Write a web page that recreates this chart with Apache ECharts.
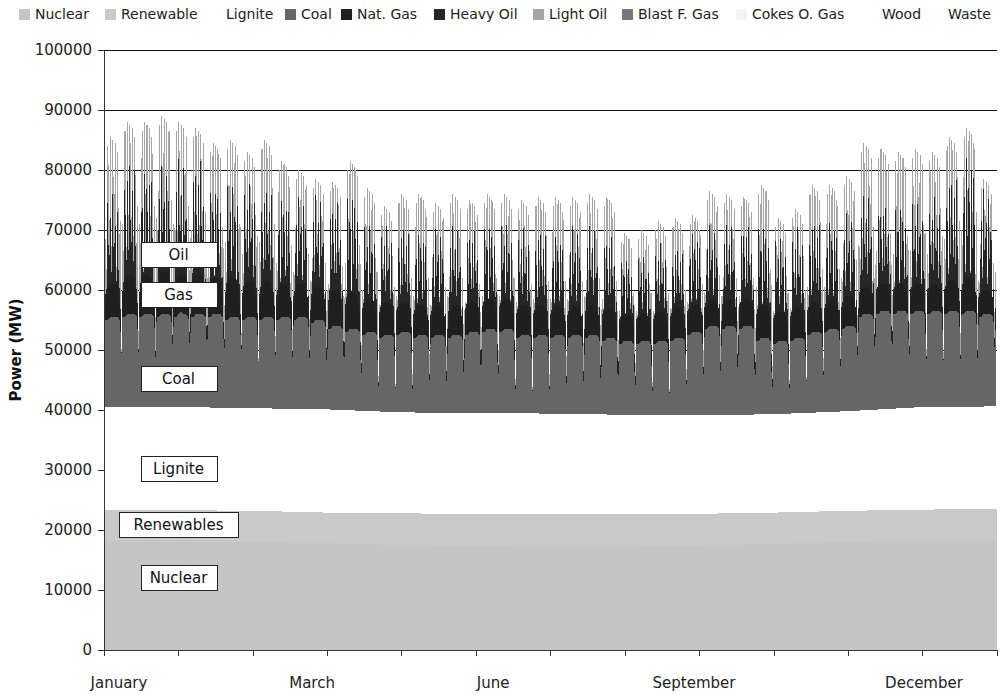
<!DOCTYPE html>
<html>
<head>
<meta charset="utf-8">
<script src="https://cdn.jsdelivr.net/npm/echarts@6/dist/echarts.min.js"></script>
<style>
html,body{margin:0;padding:0;background:#fff;}
#chart{width:1002px;height:695px;}
#chart path{shape-rendering:crispEdges;}
</style>
</head>
<body>
<div id="chart"></div>
<script>
// ---------------- DATA (MW; cumulative tops of each band) ----------------
// x-axis: hours of the year, 0 .. 8760; ticks every 730 h
const monthLabels = ['January', 'March', 'June', 'September', 'December'];
const monthLabelHours = [147, 2041, 3817, 5788, 8044];

// slow layers, sampled every 730 h (13 samples)
const nuclearTop   = [18200, 18200, 18000, 17800, 17500, 17300, 17200, 17200, 17400, 17700, 18000, 18300, 18400];
const renewableTop = [23300, 23300, 23200, 22900, 22800, 22600, 22600, 22600, 22700, 22900, 23200, 23400, 23500];
const ligniteTop   = [40500, 40500, 40300, 40100, 39600, 39500, 39400, 39200, 39100, 39300, 39800, 40500, 40600];

// weekly low (Sunday early morning): the whole stack drops to this value
const weeklyDip = [
48500, 49500, 49000, 47500, 49500, 49000, 49000, 48500, 49500, 48000, 48500, 47500,
46500, 45500, 46000, 44000, 43000, 43500, 42500, 43500, 42500, 43500,
44000, 43500, 42500, 43000, 42500, 43000, 42500, 42000,
42500, 42000, 42500, 42500, 43500, 44500, 44000, 44000,
42000, 41500, 43000, 44500, 45000, 46000,
47500, 48000, 48000, 47500, 48000, 48000, 47500, 47000, 48500
];

// daily values, one line per week (Sun .. Sat), 365 days
const coalTop = [
55000,55000,55500,55500,55500,55500,55000,
55500,55500,56000,56000,56000,56000,55500,
55500,55500,56000,56000,56000,56000,55500,
55500,55500,56000,56000,56000,56000,55500,
55500,55500,56000,56500,56000,56000,55500,
55500,55500,56000,56000,56000,56000,55500,
55500,55500,56000,56000,56000,56000,55500,
55000,55000,55500,55500,55500,55500,55000,
55000,55000,55500,55500,55500,55500,55000,
55000,55000,55500,55500,55500,55500,55000,
55000,55000,55500,55500,55500,55500,55000,
55000,55000,55500,55500,55500,55500,55000,
54500,54500,55000,55000,55000,55000,54500,
53500,53500,54000,54000,54000,54000,53500,
53000,53000,53500,53500,53500,53500,53000,
52500,52500,53000,53000,53000,53000,52500,
52000,52000,52500,52500,52500,52500,52000,
52500,52500,53000,53000,53000,53000,52500,
52000,52000,52500,52500,52500,52500,52000,
52000,52000,52500,52500,52500,52500,52000,
52000,52000,52500,52500,52500,52500,52000,
52500,52500,53000,53000,53000,53000,52500,
53000,53000,53500,53500,53500,53500,53000,
53000,53000,53500,53500,53500,53500,53000,
52000,52000,52500,52500,52500,52500,52000,
52000,52000,52500,52500,52500,52500,52000,
52000,52000,52500,52500,52500,52500,52000,
52000,52000,52500,52500,52500,52500,52000,
52000,52000,52500,52500,52500,52500,52000,
51500,51500,52000,52000,52000,52000,51500,
51000,51000,51500,51500,51500,51500,51000,
51000,51000,51500,51500,51500,51500,51000,
51000,51000,51500,51500,51500,51500,51000,
51500,51500,52000,52000,52000,52000,51500,
52500,52500,53000,53000,53000,53000,52500,
53500,53500,54000,54000,54000,54000,53500,
53500,53500,54000,54000,54000,54000,53500,
53500,53500,54000,54000,54000,54000,53500,
51500,51500,52000,52000,52000,52000,51500,
51000,51000,51500,51500,51500,51500,51000,
51500,51500,52000,52000,52000,52000,51500,
52500,52500,53000,53000,53000,53000,52500,
53000,53000,53500,53500,53500,53500,53000,
53500,53500,54000,54000,54000,54000,53500,
55500,55500,56000,56000,56000,56000,55500,
56000,56000,56500,56500,56500,56500,56000,
56000,56000,56500,56500,56500,56500,56000,
56000,56000,56500,56500,56500,56500,56000,
56000,56000,56500,56500,56500,56500,56000,
56000,56000,56500,56500,56500,56500,56000,
56000,56000,56500,56500,56500,56500,56000,
55500,55500,56000,56000,56000,56000,55500,
55500
];

// top of the solid black gas band (daily)
const gasTop = [
56000,60500,61000,61000,61000,60500,58000,
56500,62000,62500,62500,62500,62000,58500,
56500,62000,62500,62500,62500,62000,58500,
56500,62500,63000,63000,63000,62500,58500,
56500,62000,62500,62500,62500,62000,58500,
56500,62000,62500,62500,62500,62000,58500,
56500,61500,62000,62000,62000,61500,58500,
56000,61500,62000,62000,62000,61500,58000,
56000,61000,61500,61500,61500,61000,58000,
56000,61000,61500,61500,61500,61000,58000,
56000,60500,61000,61000,61000,60500,58000,
56000,60500,61000,61000,61000,60500,58000,
55500,60000,60500,60500,60500,60000,57500,
54500,59500,60000,60000,60000,59500,56500,
54000,59000,59500,59500,59500,59000,56000,
53500,58000,58500,58500,58500,58000,55500,
53000,57500,58000,58000,58000,57500,55000,
53500,57500,58000,58000,58000,57500,55500,
53000,57000,57500,57500,57500,57000,55000,
53000,57000,57500,57500,57500,57000,55000,
53000,57000,57500,57500,57500,57000,55000,
53500,57500,58000,58000,58000,57500,55500,
54000,58000,58500,58500,58500,58000,56000,
54000,58000,58500,58500,58500,58000,56000,
53000,57000,57500,57500,57500,57000,55000,
53000,57000,57500,57500,57500,57000,55000,
53000,57000,57500,57500,57500,57000,55000,
53000,57000,57500,57500,57500,57000,55000,
53000,57000,57500,57500,57500,57000,55000,
52500,56500,57000,57000,57000,56500,54500,
52000,55500,56000,56000,56000,55500,54000,
52000,55500,56000,56000,56000,55500,54000,
52000,56000,56500,56500,56500,56000,54000,
52500,56500,57000,57000,57000,56500,54500,
53500,57000,57500,57500,57500,57000,55500,
54500,58000,58500,58500,58500,58000,56500,
54500,58000,58500,58500,58500,58000,56500,
54500,58000,58500,58500,58500,58000,56500,
52500,57000,57500,57500,57500,57000,54500,
52000,56000,56500,56500,56500,56000,54000,
52500,56500,57000,57000,57000,56500,54500,
53500,57500,58000,58000,58000,57500,55500,
54000,58000,58500,58500,58500,58000,56000,
54500,58500,59000,59000,59000,58500,56500,
56500,60000,60500,60500,60500,60000,58500,
57000,60500,61000,61000,61000,60500,59000,
57000,60500,61000,61000,61000,60500,59000,
57000,60500,61000,61000,61000,60500,59000,
57000,60500,61000,61000,61000,60500,59000,
57000,61000,61500,61500,61500,61000,59000,
57000,61500,62000,62000,62000,61500,59000,
56500,59500,60000,60000,60000,59500,58500,
56500
];

// daily peak of the heavy-oil (black) streaks
const heavyOilPeak = [
59000,75500,76500,76500,76000,74500,62000,
59500,81500,82500,82500,82000,80500,62500,
59500,81000,82000,82000,81500,80000,62500,
59500,81000,82000,82000,81500,80000,62500,
59500,81000,82000,82000,81500,80000,62500,
59500,81500,82500,82500,82000,80500,62500,
59500,78000,79000,79000,78500,77000,62500,
59000,78000,79000,79000,78500,77000,62000,
59000,77000,78000,78000,77500,76000,62000,
59000,77000,78000,78000,77500,76000,62000,
59000,76000,77000,77000,76500,75000,62000,
59000,75500,76500,76500,76000,74500,62000,
58500,75000,76000,76000,75500,74000,61500,
57500,74500,75500,75500,75000,73500,60500,
57000,77000,78000,78000,77500,76000,60000,
56500,71000,72000,72000,71500,70000,59500,
56000,70000,71000,71000,70500,69000,59000,
56500,70500,71500,71500,71000,69500,59500,
56000,70000,71000,71000,70500,69000,59000,
56000,70000,71000,71000,70500,69000,59000,
56000,70000,71000,71000,70500,69000,59000,
56500,70000,71000,71000,70500,69000,59500,
57000,71500,72500,72500,72000,70500,60000,
57000,71000,72000,72000,71500,70000,60000,
56000,69500,70500,70500,70000,68500,59000,
56000,70000,71000,71000,70500,69000,59000,
56000,69500,70500,70500,70000,68500,59000,
56000,70500,71500,71500,71000,69500,59000,
56000,70000,71000,71000,70500,69000,59000,
55500,69000,70000,70000,69500,68000,58500,
55000,65500,66500,66500,66000,64500,58000,
55000,65500,66500,66500,66000,64500,58000,
55000,67000,68000,68000,67500,66000,58000,
55500,67000,68000,68000,67500,66000,58500,
56500,70000,71000,71000,70500,69000,59500,
57500,70500,71500,71500,71000,69500,60500,
57500,70500,71500,71500,71000,69500,60500,
57500,71000,72000,72000,71500,70000,60500,
55500,71500,72500,72500,72000,70500,58500,
55000,68500,69500,69500,69000,67500,58000,
55500,69500,70500,70500,70000,68500,58500,
56500,72000,73000,73000,72500,71000,59500,
57000,72000,73000,73000,72500,71000,60000,
57500,72500,73500,73500,73000,71500,60500,
59500,75500,76500,76500,76000,74500,62500,
60000,74500,75500,75500,75000,73500,63000,
60000,74500,75500,75500,75000,73500,63000,
60000,74500,75500,75500,75000,73500,63000,
60000,74500,75500,75500,75000,73500,63000,
60000,79500,80500,80500,80000,78500,63000,
60000,83500,84500,84500,84000,82500,63000,
59500,76500,77500,77500,77000,75500,62500,
59500
];

// daily peak of the light-oil (grey) streaks = top of the stack
const lightOilPeak = [
68500,84000,85500,85000,84500,83000,71500,
71000,86500,88000,87500,87000,85500,74000,
71000,86500,88000,87500,87000,85500,74000,
72000,87500,89000,88500,88000,86500,75000,
71000,86500,88000,87500,87000,85500,74000,
70000,85500,87000,86500,86000,84500,73000,
67500,83000,84500,84000,83500,82000,70500,
68000,83500,85000,84500,84000,82500,71000,
66000,81500,83000,82500,82000,80500,69000,
68000,83500,85000,84500,84000,82500,71000,
64500,80000,81500,81000,80500,79000,67500,
63000,78500,80000,79500,79000,77500,66000,
61500,77000,78500,78000,77500,76000,64500,
61000,76500,78000,77500,77000,75500,64000,
64500,80000,81500,81000,80500,79000,67500,
60000,75500,77000,76500,76000,74500,63000,
57500,72500,74000,73500,73000,71500,60500,
59000,74500,76000,75500,75000,73500,62000,
59000,74500,76000,75500,75000,73500,62000,
57500,73000,74500,74000,73500,72000,60500,
59000,74500,76000,75500,75000,73500,62000,
58000,73500,75000,74500,74000,72500,61000,
59000,74500,76000,75500,75000,73500,62000,
59000,74500,76000,75500,75000,73500,62000,
58000,73500,75000,74500,74000,72500,61000,
58500,74000,75500,75000,74500,73000,61500,
58500,74000,75500,75000,74500,73000,61500,
58500,74000,75500,75000,74500,73000,61500,
59000,74500,76000,75500,75000,73500,62000,
58500,74000,75500,75000,74500,73000,61500,
56500,68000,69500,69000,68500,67000,59500,
56500,68500,70000,69500,69000,67500,59500,
56500,70000,71500,71000,70500,69000,59500,
57000,70500,72000,71500,71000,69500,60000,
58000,71000,72500,72000,71500,70000,61000,
59500,75000,76500,76000,75500,74000,62500,
59000,74500,76000,75500,75000,73500,62000,
59000,74000,75500,75000,74500,73000,62000,
60500,76000,77500,77000,76500,75000,63500,
56500,70500,72000,71500,71000,69500,59500,
57000,72000,73500,73000,72500,71000,60000,
60500,76000,77500,77000,76500,75000,63500,
60500,76000,77500,77000,76500,75000,63500,
62000,77500,79000,78500,78000,76500,65000,
67500,83000,84500,84000,83500,82000,70500,
66500,82000,83500,83000,82500,81000,69500,
66000,81500,83000,82500,82000,80500,69000,
66500,82000,83500,83000,82500,81000,69500,
66000,81500,83000,82500,82000,80500,69000,
68500,84000,85500,85000,84500,83000,71500,
70000,85500,87000,86500,86000,84500,73000,
61500,77000,78500,78000,77500,76000,64500,
63000
];

// label boxes drawn inside the plot
const bandLabels = ['Oil', 'Gas', 'Coal', 'Lignite', 'Renewables', 'Nuclear'];
const bandLabelValues = [66000, 59200, 45250, 30200, 20900, 12100];

const legendNames = ['Nuclear', 'Renewable', 'Lignite', 'Coal', 'Nat. Gas', 'Heavy Oil', 'Light Oil', 'Blast F. Gas', 'Cokes O. Gas', 'Wood', 'Waste'];

// ---------------- build library tables ----------------
const monthlyPts = arr => arr.map((v, i) => [i * 730, v]);
// daily band tops, with the weekly Sunday-morning low inserted
const dailyPts = arr => {
  const out = [];
  arr.forEach((v, d) => {
    if (d % 7 === 0) out.push([d * 24 + 4, weeklyDip[d / 7]]);
    out.push([d * 24 + 12, v]);
  });
  return out;
};
// night trough (top of gas band or weekly low) and daytime plateau of the oil streaks
const streakPts = (peaks, h1, h2) => {
  const out = [];
  peaks.forEach((v, d) => {
    const night = d % 7 === 0 ? weeklyDip[d / 7] : gasTop[d];
    out.push([d * 24 + 4, night]);
    out.push([d * 24 + h1, v]);
    out.push([d * 24 + h2, v]);
  });
  return out;
};

const FONT = '"DejaVu Sans", Verdana, sans-serif';
const colors = {
  'Nuclear': '#c5c5c5', 'Renewable': '#c9c9c9', 'Lignite': '#ffffff', 'Coal': '#666666',
  'Nat. Gas': '#1f1f1f', 'Heavy Oil': '#262626', 'Light Oil': '#a6a6a6', 'Blast F. Gas': '#777777',
  'Cokes O. Gas': '#f4f4f4', 'Wood': '#ffffff', 'Waste': '#ffffff'
};

function area(name, data) {
  return {
    name, type: 'line', data, showSymbol: false, symbol: 'none', smooth: false,
    sampling: null, silent: true, animation: false,
    lineStyle: { width: 0, color: colors[name] },
    itemStyle: { color: colors[name] },
    areaStyle: { color: colors[name], opacity: 1 },
    emphasis: { disabled: true }
  };
}

// painted from the top band downwards, lower bands cover upper ones
const series = [
  area('Waste', []),
  area('Wood', []),
  area('Cokes O. Gas', []),
  area('Blast F. Gas', []),
  area('Light Oil', streakPts(lightOilPeak, 9, 19)),
  area('Heavy Oil', streakPts(heavyOilPeak, 11, 17)),
  area('Nat. Gas', dailyPts(gasTop)),
  area('Coal', dailyPts(coalTop)),
  area('Lignite', monthlyPts(ligniteTop)),
  area('Renewable', monthlyPts(renewableTop)),
  area('Nuclear', monthlyPts(nuclearTop))
];

const legendLeft = [19, 105, 210, 285, 341, 434, 533, 622, 736, 866, 932];
const legends = legendNames.map((n, i) => ({
  data: [n], left: legendLeft[i], top: 7, padding: 0, icon: 'rect',
  itemWidth: 11, itemHeight: 11, itemGap: 0, selectedMode: false,
  textStyle: { fontFamily: FONT, fontSize: 14, color: '#222' }
}));

const chart = echarts.init(document.getElementById('chart'), null, { renderer: 'svg' });
const option = {
  animation: false,
  backgroundColor: '#ffffff',
  legend: legends,
  grid: { left: 104, right: 5, top: 50, bottom: 45, containLabel: false, outerBoundsMode: 'none' },
  xAxis: {
    type: 'value', min: 0, max: 8760, interval: 730, z: 10,
    axisLine: { show: true, lineStyle: { color: '#333', width: 1 } },
    axisTick: { show: true, inside: false, length: 6, lineStyle: { color: '#333' } },
    axisLabel: { show: false },
    splitLine: { show: false }
  },
  yAxis: [{
    type: 'value', min: 0, max: 100000, interval: 10000, z: 0,
    axisLine: { show: false }, axisTick: { show: false }, axisLabel: { show: false },
    splitLine: { show: true, lineStyle: { color: '#111', width: 1 } }
  }, {
    type: 'value', min: 0, max: 100000, interval: 10000, z: 10, position: 'left',
    name: 'Power (MW)', nameLocation: 'middle', nameGap: 80,
    nameTextStyle: { fontFamily: FONT, fontSize: 15, fontWeight: 'bold', color: '#111' },
    axisLine: { show: true, lineStyle: { color: '#333', width: 1 } },
    axisTick: { show: true, length: 6, lineStyle: { color: '#333' } },
    axisLabel: { fontFamily: FONT, fontSize: 15, color: '#222', margin: 12, formatter: v => String(v) },
    splitLine: { show: false }
  }],
  series
};
chart.setOption(option);

// month labels and band-label boxes, anchored through the axes
const graphics = [];
monthLabels.forEach((t, i) => {
  const p = chart.convertToPixel({ xAxisIndex: 0, yAxisIndex: 0 }, [monthLabelHours[i], 0]);
  graphics.push({
    type: 'text', z: 100, silent: true,
    style: { text: t, x: p[0], y: 683, textAlign: 'center', textVerticalAlign: 'middle',
             font: '15px ' + FONT, fill: '#222' }
  });
});
bandLabels.forEach((t, i) => {
  const p = chart.convertToPixel({ xAxisIndex: 0, yAxisIndex: 0 }, [731, bandLabelValues[i]]);
  const w = t === 'Renewables' ? 119 : 76;
  const h = 25;
  const x0 = Math.round(p[0] - w / 2) + 0.5, y0 = Math.round(p[1] - h / 2) + 0.5;
  graphics.push({
    type: 'rect', z: 100, silent: true,
    shape: { x: x0, y: y0, width: w, height: h },
    style: { fill: '#ffffff', stroke: '#222', lineWidth: 1 }
  });
  graphics.push({
    type: 'text', z: 101, silent: true,
    style: { text: t, x: p[0], y: p[1] + 0.5, textAlign: 'center', textVerticalAlign: 'middle',
             font: '15px ' + FONT, fill: '#111' }
  });
});
chart.setOption({ graphic: graphics });
</script>
</body>
</html>
